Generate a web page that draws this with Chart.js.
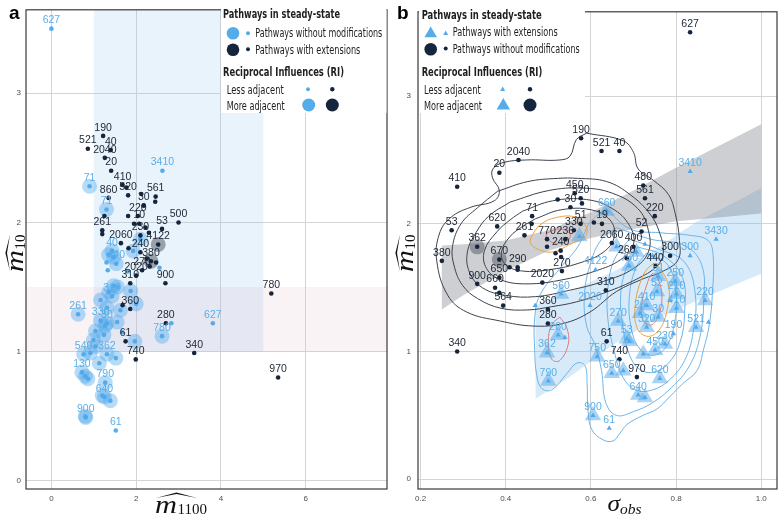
<!DOCTYPE html>
<html>
<head>
<meta charset="utf-8">
<script src="https://cdn.jsdelivr.net/npm/chart.js@4.4.1/dist/chart.umd.min.js"></script>
<style>
  body { margin: 0; background: #fff; }
  #wrap { position: relative; width: 778px; height: 515px; overflow: hidden; }
  canvas { position: absolute; top: 0; }
  #chartA { left: 0; }
  #chartB { left: 389px; }
  #overlay { position: absolute; left: 0; top: 0; pointer-events: none; }
  .lg { font-family: "Liberation Sans Narrow", "DejaVu Sans Condensed", "Liberation Sans", sans-serif; fill: #1e1e1e; }
  .ttl { font-weight: bold; font-size: 12.5px; }
  .itm { font-size: 11.5px; }
  .math { font-family: "Liberation Serif", "DejaVu Serif", serif; fill: #111; }
</style>
</head>
<body>
<div id="wrap">
  <canvas id="chartA" width="389" height="515"></canvas>
  <canvas id="chartB" width="389" height="515"></canvas>
  <svg id="overlay" width="778" height="515">
    <!-- panel letters -->
    <text x="9" y="18.5" font-family="Liberation Sans, Arial, sans-serif" font-weight="bold" font-size="19">a</text>
    <text x="397" y="18.5" font-family="Liberation Sans, Arial, sans-serif" font-weight="bold" font-size="19">b</text>

    <!-- legend a -->
    <rect x="221" y="3" width="165.5" height="110" fill="#fff"/>
    <text class="lg ttl" x="223" y="18" textLength="117" lengthAdjust="spacingAndGlyphs">Pathways in steady-state</text>
    <circle cx="233" cy="33.3" r="6.3" fill="#55acea"/>
    <circle cx="248" cy="33.3" r="2" fill="#55acea"/>
    <text class="lg itm" x="255.3" y="37.3" textLength="127" lengthAdjust="spacingAndGlyphs">Pathways without modifications</text>
    <circle cx="233" cy="49.7" r="6.3" fill="#15253d"/>
    <circle cx="248" cy="49.3" r="2" fill="#15253d"/>
    <text class="lg itm" x="255.3" y="54" textLength="105" lengthAdjust="spacingAndGlyphs">Pathways with extensions</text>
    <text class="lg ttl" x="223" y="75.5" textLength="121" lengthAdjust="spacingAndGlyphs">Reciprocal Influences (RI)</text>
    <text class="lg itm" x="226.7" y="93.5" textLength="57" lengthAdjust="spacingAndGlyphs">Less adjacent</text>
    <circle cx="308" cy="89.3" r="2" fill="#55acea"/>
    <circle cx="332.3" cy="89.3" r="2.2" fill="#15253d"/>
    <text class="lg itm" x="226.7" y="109.5" textLength="58" lengthAdjust="spacingAndGlyphs">More adjacent</text>
    <circle cx="308.7" cy="105" r="6.5" fill="#55acea"/>
    <circle cx="332.3" cy="105" r="6.5" fill="#15253d"/>

    <!-- legend b -->
    <rect x="419" y="5" width="166" height="108" fill="#fff"/>
    <text class="lg ttl" x="421.7" y="18.5" textLength="120" lengthAdjust="spacingAndGlyphs">Pathways in steady-state</text>
    <polygon points="430.7,26.5 424.4,37.2 437,37.2" fill="#55acea"/>
    <polygon points="445.7,30.6 443.2,35 448.2,35" fill="#55acea"/>
    <text class="lg itm" x="452.7" y="36" textLength="105" lengthAdjust="spacingAndGlyphs">Pathways with extensions</text>
    <circle cx="430.7" cy="49.3" r="6.3" fill="#15253d"/>
    <circle cx="445.7" cy="48.5" r="2" fill="#15253d"/>
    <text class="lg itm" x="452.7" y="52.8" textLength="127" lengthAdjust="spacingAndGlyphs">Pathways without modifications</text>
    <text class="lg ttl" x="421.7" y="76" textLength="120.6" lengthAdjust="spacingAndGlyphs">Reciprocal Influences (RI)</text>
    <text class="lg itm" x="424" y="93.5" textLength="56.7" lengthAdjust="spacingAndGlyphs">Less adjacent</text>
    <polygon points="502.7,86.6 500.2,91 505.2,91" fill="#55acea"/>
    <circle cx="530" cy="89.3" r="2.2" fill="#15253d"/>
    <text class="lg itm" x="424" y="109.5" textLength="58" lengthAdjust="spacingAndGlyphs">More adjacent</text>
    <polygon points="503.3,98 496.6,109.5 510,109.5" fill="#55acea"/>
    <circle cx="530" cy="105" r="6.5" fill="#15253d"/>

    <!-- axis titles -->
    <text class="math" x="155" y="513" font-style="italic" font-size="26" textLength="22" lengthAdjust="spacingAndGlyphs">m</text>
    <text class="math" x="177.5" y="514.3" font-size="15" textLength="29.5" lengthAdjust="spacingAndGlyphs">1100</text>
    <path d="M156,498 L176.5,492.4 L197,498 L176.5,494 Z" fill="#111"/>

    <g transform="translate(23,272) rotate(-90)">
      <text class="math" x="0" y="0" font-style="italic" font-size="26" textLength="22" lengthAdjust="spacingAndGlyphs">m</text>
      <text class="math" x="22.5" y="1.5" font-size="15" textLength="15" lengthAdjust="spacingAndGlyphs">10</text>
      <path d="M0.5,-13 L19,-17.6 L37.5,-13 L19,-16 Z" fill="#111"/>
    </g>

    <text class="math" x="607.5" y="511" font-style="italic" font-size="23" textLength="12.5" lengthAdjust="spacingAndGlyphs">σ</text>
    <text class="math" x="620" y="513.5" font-style="italic" font-size="15" textLength="21.5" lengthAdjust="spacingAndGlyphs">obs</text>

    <g transform="translate(413,272) rotate(-90)">
      <text class="math" x="0" y="0" font-style="italic" font-size="26" textLength="22" lengthAdjust="spacingAndGlyphs">m</text>
      <text class="math" x="22.5" y="1.5" font-size="15" textLength="15" lengthAdjust="spacingAndGlyphs">10</text>
      <path d="M0.5,-13 L19,-17.6 L37.5,-13 L19,-16 Z" fill="#111"/>
    </g>
  </svg>
</div>

<script>
const BLUE = "#55acea";
const DARK = "#15253d";

// ---------- panel a ----------
const aXTicks = [0, 2, 4, 6];
const aYTicks = [0, 1, 2, 3];

// pathways without modifications (blue)
const aBlueX = [0.00, 2.62, 0.90, 1.30, 2.10, 1.43, 1.35, 1.93, 1.53, 1.30, 1.33, 2.55, 1.47, 1.56, 1.87, 1.16, 1.43, 1.31, 2.00, 1.63,
                0.63, 1.16, 1.31, 1.27, 1.55, 1.04, 1.24, 2.83, 3.81, 2.61, 1.67, 1.97, 0.99, 0.76, 1.31, 1.04, 0.92, 1.52, 1.13, 0.72,
                0.86, 0.80, 1.27, 1.25, 1.39, 0.81, 0.80, 1.52, 1.47, 1.80, 1.20, 1.35];
const aBlueY = [3.50, 2.40, 2.28, 2.10, 1.87, 1.78, 1.75, 1.78, 1.68, 1.69, 1.63, 1.65, 1.51, 1.50, 1.47, 1.40, 1.43, 1.34, 1.37, 1.32,
                1.29, 1.24, 1.22, 1.20, 1.23, 1.16, 1.13, 1.22, 1.22, 1.12, 1.15, 1.08, 1.09, 0.98, 0.98, 1.04, 0.99, 0.95, 0.91, 0.84,
                0.79, 0.81, 0.76, 0.65, 0.62, 0.49, 0.50, 0.39, 1.73, 1.62, 0.66, 1.46];
const aBlueRI = [1, 1, 3, 3, 3, 3, 3, 3, 3, 1, 1, 1, 3, 3, 3, 3, 3, 3, 3, 3,
                 3, 3, 3, 3, 3, 3, 3, 1, 1, 3, 1, 3, 3, 3, 3, 3, 3, 3, 3, 3,
                 3, 3, 3, 3, 3, 3, 3, 1, 3, 1, 3, 3];
const aBlueLabels = ["627", "3410", "71", "71", "", "40", "", "", "440", "", "", "", "", "", "", "", "310", "", "", "",
                     "261", "330", "30", "", "", "", "", "", "627", "780", "", "", "", "540", "362", "", "", "", "", "130",
                     "", "", "790", "640", "", "900", "", "61", "", "", "", ""];

// pathways with extensions (dark)
const aDarkX = [1.22, 0.86, 1.40, 1.26, 1.41, 1.68, 1.77, 1.81, 2.46, 2.45, 2.12, 2.18, 1.35, 1.25, 2.04, 1.81, 2.07, 3.00, 2.61, 1.20,
                1.20, 1.64, 2.10, 1.95, 2.22, 2.30, 1.82, 2.52, 2.10, 2.35, 2.25, 2.47, 2.14, 2.32, 2.00, 2.69, 1.86, 5.19, 1.86, 1.68,
                2.70, 1.75, 3.37, 1.99, 5.35];
const aDarkY = [2.67, 2.57, 2.56, 2.50, 2.40, 2.29, 2.27, 2.21, 2.20, 2.16, 2.22, 2.13, 2.19, 2.05, 2.05, 2.05, 1.99, 2.00, 1.95, 1.94,
                1.91, 1.84, 1.90, 1.99, 1.96, 1.92, 1.80, 1.83, 1.77, 1.70, 1.72, 1.69, 1.63, 1.66, 1.59, 1.53, 1.53, 1.45, 1.33, 1.36,
                1.22, 1.08, 0.99, 0.94, 0.80];
const aDarkRI = [1, 1, 1, 1, 1, 1, 1, 1, 1, 1, 1, 1, 1, 1, 1, 1, 1, 1, 1, 1,
                 1, 1, 1, 1, 1, 1, 1, 3, 1, 3, 1, 1, 1, 1, 1, 1, 1, 1, 1, 1,
                 1, 1, 1, 1, 1];
const aDarkLabels = ["190", "521", "40", "2040", "20", "410", "", "520", "561", "", "", "30", "860", "", "220", "", "10", "500", "53", "261",
                     "", "2060", "230", "", "", "", "", "4122", "240", "380", "", "", "270", "", "2020", "900", "310", "780", "360", "",
                     "280", "61", "340", "740", "970"];

// shaded zones
const aZoneBlueX = [1, 5];
const aZoneBlueY = [1, 4];
const aZonePinkX = [-1, 9];
const aZonePinkY = [1, 1.5];

// ---------- panel b ----------
const bXTicks = [0.2, 0.4, 0.6, 0.8, 1.0];
const bXTickLabels = ["0.2", "0.4", "0.6", "0.8", "1.0"];
const bYTicks = [0, 1, 2, 3];

// pathways without modifications (dark circles)
const bDarkX = [0.833, 0.577, 0.625, 0.667, 0.430, 0.385, 0.286, 0.723, 0.562, 0.576, 0.579, 0.727, 0.522, 0.552, 0.750, 0.462, 0.461, 0.380, 0.273, 0.576,
                0.607, 0.626, 0.560, 0.540, 0.497, 0.497, 0.529, 0.517, 0.530, 0.444, 0.649, 0.719, 0.700, 0.684, 0.786, 0.751, 0.333, 0.250, 0.385, 0.385,
                0.409, 0.428, 0.428, 0.375, 0.333, 0.394, 0.385, 0.486, 0.532, 0.635, 0.499, 0.499, 0.286, 0.637, 0.667, 0.708];
const bDarkY = [3.50, 2.67, 2.57, 2.57, 2.50, 2.40, 2.29, 2.30, 2.24, 2.20, 2.16, 2.20, 2.19, 2.13, 2.06, 2.06, 2.00, 1.98, 1.95, 2.00,
                2.01, 2.00, 1.95, 1.88, 1.88, 1.82, 1.79, 1.77, 1.74, 1.91, 1.85, 1.94, 1.82, 1.73, 1.75, 1.67, 1.82, 1.71, 1.72, 1.58,
                1.66, 1.66, 1.64, 1.50, 1.53, 1.36, 1.46, 1.54, 1.63, 1.48, 1.33, 1.22, 1.00, 1.08, 0.94, 0.80];
const bDarkRI = [1, 1, 1, 1, 1, 1, 1, 1, 1, 1, 1, 1, 1, 1, 1, 1, 1, 1, 1, 1,
                 1, 1, 1, 1, 1, 1, 1, 1, 1, 1, 1, 1, 1, 1, 1, 1, 3, 1, 3, 1,
                 1, 1, 1, 1, 1, 1, 1, 1, 1, 1, 1, 1, 1, 1, 1, 1];
const bDarkLabels = ["627", "190", "521", "40", "2040", "20", "410", "480", "450", "520", "", "561", "", "30", "220", "71", "", "620", "53", "51",
                     "", "19", "330", "236", "770", "", "240", "", "", "261", "2060", "52", "400", "260", "300", "440", "362", "380", "670", "650",
                     "", "290", "", "660", "900", "564", "", "2020", "270", "310", "360", "280", "340", "61", "740", "970"];

// pathways with extensions (blue triangles)
const bBlueX = [0.833, 0.637, 0.573, 0.611, 0.894, 0.833, 0.690, 0.660, 0.707, 0.727, 0.530, 0.469, 0.598, 0.523, 0.539, 0.497, 0.500, 0.605, 0.643, 0.615,
                0.649, 0.676, 0.684, 0.664, 0.715, 0.731, 0.731, 0.758, 0.755, 0.758, 0.798, 0.801, 0.801, 0.794, 0.868, 0.847, 0.876, 0.774, 0.751, 0.723,
                0.762, 0.711, 0.727, 0.690, 0.745, 0.785];
const bBlueY = [2.41, 2.10, 1.90, 1.64, 1.88, 1.75, 1.67, 1.82, 1.78, 1.84, 1.45, 1.36, 1.36, 1.13, 1.11, 0.99, 0.77, 0.50, 0.40, 0.96,
                0.83, 0.85, 1.10, 1.24, 1.30, 1.36, 1.19, 1.27, 1.47, 1.59, 1.55, 1.45, 1.34, 1.14, 1.40, 1.19, 1.23, 1.06, 1.01, 0.98,
                0.79, 0.66, 0.64, 1.08, 1.75, 1.40];
const bBlueRI = [1, 3, 3, 1, 1, 1, 3, 3, 3, 1, 3, 1, 1, 3, 1, 3, 3, 3, 1, 3,
                 3, 3, 3, 3, 3, 3, 3, 3, 3, 3, 3, 3, 3, 1, 3, 3, 1, 3, 3, 3,
                 3, 3, 3, 3, 1, 1];
const bBlueLabels = ["3410", "660", "", "4122", "3430", "300", "750", "", "", "", "560", "", "2020", "280", "", "362", "790", "900", "61", "750",
                     "650", "", "53", "270", "26", "410", "320", "30", "52", "51", "250", "210", "410", "190", "220", "521", "", "230", "450", "",
                     "620", "640", "", "", "", ""];

// regression bands
const bGreyBandX = [0.25, 0.3, 0.4, 0.5, 0.6, 0.7, 0.8, 0.9, 1.0];
const bGreyBandHi = [1.83, 1.84, 1.87, 1.95, 2.09, 2.26, 2.44, 2.61, 2.78];
const bGreyBandLo = [1.33, 1.44, 1.63, 1.79, 1.89, 1.96, 2.02, 2.05, 2.08];
const bBlueBandX = [0.47, 0.55, 0.65, 0.75, 0.85, 0.95, 1.0];
const bBlueBandHi = [1.36, 1.47, 1.62, 1.80, 2.02, 2.19, 2.28];
const bBlueBandLo = [0.63, 0.80, 1.05, 1.25, 1.40, 1.54, 1.61];

// density contours, dark pathways
const greyC1 = [[0.590,2.71],[0.676,2.65],[0.700,2.56],[0.711,2.43],[0.747,2.34],[0.782,2.23],[0.798,2.08],[0.808,1.87],[0.805,1.72],[0.770,1.63],
                [0.723,1.57],[0.660,1.47],[0.598,1.31],[0.535,1.22],[0.464,1.20],[0.386,1.24],[0.308,1.31],[0.264,1.44],[0.238,1.71],[0.244,1.92],
                [0.271,2.05],[0.318,2.13],[0.373,2.18],[0.385,2.26],[0.369,2.36],[0.370,2.43],[0.394,2.48],[0.449,2.50],[0.527,2.50],[0.551,2.53],
                [0.566,2.66],[0.590,2.71]];
const greyC2 = [[0.381,2.255],[0.452,2.331],[0.522,2.356],[0.569,2.356],[0.637,2.331],[0.692,2.229],[0.739,2.076],[0.762,1.924],[0.770,1.771],[0.755,1.669],
                [0.708,1.568],[0.637,1.466],[0.566,1.389],[0.507,1.351],[0.452,1.326],[0.389,1.339],[0.334,1.415],[0.299,1.517],[0.279,1.669],[0.275,1.822],
                [0.295,2.0],[0.334,2.127],[0.381,2.255]];
const greyC3 = [[0.41,2.17],[0.50,2.26],[0.58,2.28],[0.65,2.24],[0.71,2.12],[0.735,1.95],[0.735,1.78],[0.70,1.65],[0.63,1.55],[0.55,1.48],
                [0.47,1.43],[0.40,1.44],[0.345,1.50],[0.315,1.62],[0.31,1.78],[0.33,1.93],[0.36,2.06],[0.41,2.17]];
const greyC4 = [[0.44,2.10],[0.51,2.18],[0.59,2.19],[0.65,2.12],[0.69,1.99],[0.70,1.84],[0.67,1.72],[0.61,1.63],[0.53,1.56],[0.45,1.53],
                [0.39,1.56],[0.355,1.65],[0.35,1.79],[0.38,1.94],[0.41,2.03],[0.44,2.10]];
const greyC5 = [[0.47,2.04],[0.53,2.11],[0.60,2.11],[0.645,2.03],[0.655,1.90],[0.63,1.78],[0.57,1.69],[0.50,1.64],[0.44,1.63],[0.40,1.68],
                [0.39,1.78],[0.41,1.90],[0.44,1.98],[0.47,2.04]];
const greyOrange = [[0.460,1.90],[0.480,1.99],[0.519,2.05],[0.566,2.05],[0.590,1.97],[0.586,1.90],[0.551,1.84],[0.511,1.78],[0.476,1.80],[0.458,1.85],[0.460,1.90]];
const greyRed = [[0.497,1.93],[0.527,1.96],[0.551,1.92],[0.543,1.86],[0.515,1.85],[0.496,1.89],[0.497,1.93]];

// density contours, blue pathways
const blueC1 = [[0.635,2.12],[0.692,1.96],[0.762,1.93],[0.833,1.91],[0.875,1.87],[0.887,1.75],[0.885,1.44],[0.878,1.21],[0.864,1.01],[0.849,0.85],
                [0.816,0.75],[0.786,0.65],[0.755,0.55],[0.722,0.50],[0.685,0.43],[0.668,0.36],[0.652,0.30],[0.628,0.31],[0.602,0.39],[0.593,0.55],
                [0.591,0.75],[0.586,0.89],[0.567,0.91],[0.544,0.83],[0.508,0.70],[0.485,0.71],[0.473,0.81],[0.468,1.01],[0.468,1.26],[0.480,1.44],
                [0.527,1.65],[0.569,1.82],[0.598,2.01],[0.635,2.12]];
const blueC2 = [[0.66,1.97],[0.74,1.88],[0.82,1.83],[0.86,1.68],[0.865,1.40],[0.855,1.10],[0.83,0.88],[0.79,0.72],[0.745,0.60],[0.70,0.53],
                [0.66,0.50],[0.635,0.60],[0.625,0.85],[0.61,1.05],[0.59,1.20],[0.585,1.45],[0.60,1.70],[0.625,1.88],[0.66,1.97]];
const blueC3 = [[0.69,1.88],[0.76,1.80],[0.82,1.70],[0.845,1.45],[0.84,1.15],[0.82,0.93],[0.785,0.78],[0.745,0.70],[0.705,0.70],[0.675,0.80],
                [0.655,1.00],[0.64,1.25],[0.64,1.50],[0.655,1.72],[0.69,1.88]];
const blueC4 = [[0.71,1.82],[0.77,1.75],[0.815,1.58],[0.82,1.30],[0.81,1.08],[0.785,0.92],[0.75,0.84],[0.715,0.86],[0.69,0.98],[0.675,1.20],
                [0.67,1.45],[0.685,1.67],[0.71,1.82]];
const blueC5 = [[0.73,1.77],[0.78,1.68],[0.80,1.45],[0.795,1.20],[0.775,1.03],[0.745,0.97],[0.715,1.02],[0.695,1.18],[0.69,1.42],[0.705,1.65],[0.73,1.77]];
const blueOrange = [[0.755,1.69],[0.782,1.52],[0.778,1.31],[0.758,1.16],[0.731,1.12],[0.708,1.19],[0.704,1.36],[0.719,1.57],[0.739,1.67],[0.755,1.69]];
const blueRed = [[0.755,1.59],[0.766,1.47],[0.762,1.31],[0.743,1.21],[0.723,1.24],[0.719,1.36],[0.731,1.52],[0.744,1.61],[0.755,1.59]];
const blueRed2 = [[0.527,1.27],[0.543,1.19],[0.547,1.06],[0.527,0.93],[0.508,0.94],[0.500,1.08],[0.508,1.21],[0.527,1.27]];

// ---------- helpers ----------
function pts(xs, ys) { return xs.map((x, i) => ({ x: x, y: ys[i] })); }
function poly(pairs) { return pairs.map(p => ({ x: p[0], y: p[1] })); }
function rect(xr, yr) {
    return [{ x: xr[0], y: yr[0] }, { x: xr[1], y: yr[0] }, { x: xr[1], y: yr[1] }, { x: xr[0], y: yr[1] }, { x: xr[0], y: yr[0] }];
}
function band(xs, hi, lo) {
    const top = xs.map((x, i) => ({ x: x, y: hi[i] }));
    const bot = xs.map((x, i) => ({ x: x, y: lo[i] })).reverse();
    return top.concat(bot, [top[0]]);
}

function area(data, color, order) {
    return { data: data, showLine: true, fill: "shape", backgroundColor: color, borderColor: "rgba(0,0,0,0)",
             borderWidth: 0, pointRadius: 0, tension: 0, order: order };
}
function contour(pairs, color, width, order) {
    return { data: poly(pairs), showLine: true, fill: false, borderColor: color, borderWidth: width,
             pointRadius: 0, tension: 0.4, order: order };
}
function halo(xs, ys, ri, color, style, r, order) {
    return { data: pts(xs, ys), pointStyle: style, order: order,
             pointRadius: c => ri[c.dataIndex] === 3 ? r : 0,
             pointBackgroundColor: color, pointBorderWidth: 0, pointBorderColor: "rgba(0,0,0,0)" };
}
function dots(xs, ys, labels, color, labelColor, style, r, order) {
    return { data: pts(xs, ys), pointStyle: style, order: order, pointRadius: r,
             pointBackgroundColor: color, pointBorderWidth: 0, pointBorderColor: "rgba(0,0,0,0)",
             labels: labels, labelColor: labelColor };
}

// text above points
const pointLabels = {
    id: "pointLabels",
    afterDatasetsDraw(chart) {
        const ctx = chart.ctx;
        chart.data.datasets.forEach((ds, i) => {
            if (!ds.labels) return;
            const meta = chart.getDatasetMeta(i);
            ctx.save();
            ctx.font = '10.5px "Liberation Sans", Arial, sans-serif';
            ctx.fillStyle = ds.labelColor;
            ctx.textAlign = "center";
            ctx.textBaseline = "bottom";
            meta.data.forEach((pt, j) => {
                if (ds.labels[j]) ctx.fillText(ds.labels[j], pt.x, pt.y - 3);
            });
            ctx.restore();
        });
    }
};

// panel frame
const frame = {
    id: "frame",
    afterDraw(chart) {
        const a = chart.chartArea, ctx = chart.ctx;
        ctx.save();
        ctx.strokeStyle = "#3a3a3a";
        ctx.lineWidth = 1.2;
        ctx.strokeRect(a.left, a.top, a.right - a.left, a.bottom - a.top);
        ctx.restore();
    }
};

function axes(xMin, xMax, yMin, yMax, xTicks, yTicks, xLabels, yWidth, yPad) {
    const tickFont = { family: "Liberation Sans, Arial, sans-serif", size: 8 };
    return {
        x: {
            type: "linear", min: xMin, max: xMax,
            grid: { color: "#d4d4d4", lineWidth: 1, drawTicks: false },
            border: { display: false },
            ticks: { font: tickFont, color: "#4d4d4d", padding: 5,
                     callback: (v, i) => xLabels ? xLabels[i] : String(v) },
            afterBuildTicks: s => { s.ticks = xTicks.map(v => ({ value: v })); },
            afterFit: s => { s.height = 26; }
        },
        y: {
            type: "linear", min: yMin, max: yMax,
            grid: { color: "#d4d4d4", lineWidth: 1, drawTicks: false },
            border: { display: false },
            ticks: { font: tickFont, color: "#4d4d4d", padding: yPad },
            afterBuildTicks: s => { s.ticks = yTicks.map(v => ({ value: v })); },
            afterFit: s => { s.width = yWidth; }
        }
    };
}

const common = {
    responsive: false,
    animation: false,
    events: [],
    plugins: { legend: { display: false }, tooltip: { enabled: false } }
};

// ---------- chart a ----------
new Chart(document.getElementById("chartA"), {
    type: "scatter",
    data: {
        datasets: [
            dots(aDarkX, aDarkY, aDarkLabels, DARK, "#1c2533", "circle", 2.3, 1),
            dots(aBlueX, aBlueY, aBlueLabels, "rgba(80,168,234,0.95)", "#5aaee8", "circle", 2.3, 2),
            halo(aDarkX, aDarkY, aDarkRI, "rgba(40,50,65,0.42)", "circle", 7.5, 4),
            halo(aBlueX, aBlueY, aBlueRI, "rgba(82,170,235,0.42)", "circle", 7.5, 5),
            area(rect(aZonePinkX, aZonePinkY), "rgba(220,180,200,0.16)", 20),
            area(rect(aZoneBlueX, aZoneBlueY), "rgba(150,200,240,0.22)", 21)
        ]
    },
    options: Object.assign({}, common, {
        layout: { autoPadding: false, padding: { top: 1, right: 2, bottom: 0, left: 0 } },
        scales: axes(-0.6, 7.92, -0.063, 3.646, aXTicks, aYTicks, null, 26, 5)
    }),
    plugins: [pointLabels, frame]
});

// ---------- chart b ----------
new Chart(document.getElementById("chartB"), {
    type: "scatter",
    data: {
        datasets: [
            dots(bDarkX, bDarkY, bDarkLabels, DARK, "#1c2533", "circle", 2.3, 1),
            dots(bBlueX, bBlueY, bBlueLabels, "rgba(78,166,234,0.95)", "#5aaee8", "triangle", 3, 2),
            halo(bDarkX, bDarkY, bDarkRI, "rgba(70,76,86,0.45)", "circle", 7.5, 3),
            halo(bBlueX, bBlueY, bBlueRI, "rgba(82,168,234,0.5)", "triangle", 9.5, 4),
            contour(greyRed, "#e07b7b", 1, 6),
            contour(greyOrange, "#eea13a", 1, 6),
            contour(blueRed, "#e07b7b", 1, 6),
            contour(blueRed2, "#e07b7b", 1, 6),
            contour(blueOrange, "#eea13a", 1, 6),
            contour(greyC1, "#3c424c", 1, 7),
            contour(greyC2, "#3c424c", 1, 7),
            contour(greyC3, "#3c424c", 1, 7),
            contour(greyC4, "#3c424c", 1, 7),
            contour(greyC5, "#3c424c", 1, 7),
            contour(blueC1, "#6db4e9", 1, 8),
            contour(blueC2, "#6db4e9", 1, 8),
            contour(blueC3, "#6db4e9", 1, 8),
            contour(blueC4, "#6db4e9", 1, 8),
            contour(blueC5, "#6db4e9", 1, 8),
            area(band(bGreyBandX, bGreyBandHi, bGreyBandLo), "rgba(130,135,142,0.40)", 20),
            area(band(bBlueBandX, bBlueBandHi, bBlueBandLo), "rgba(120,185,240,0.30)", 21)
        ]
    },
    options: Object.assign({}, common, {
        layout: { autoPadding: false, padding: { top: 1, right: 1, bottom: 0, left: 0 } },
        scales: axes(0.194, 1.037, -0.076, 3.66, bXTicks, bYTicks, bXTickLabels, 29, 7)
    }),
    plugins: [pointLabels, frame]
});
</script>
</body>
</html>
